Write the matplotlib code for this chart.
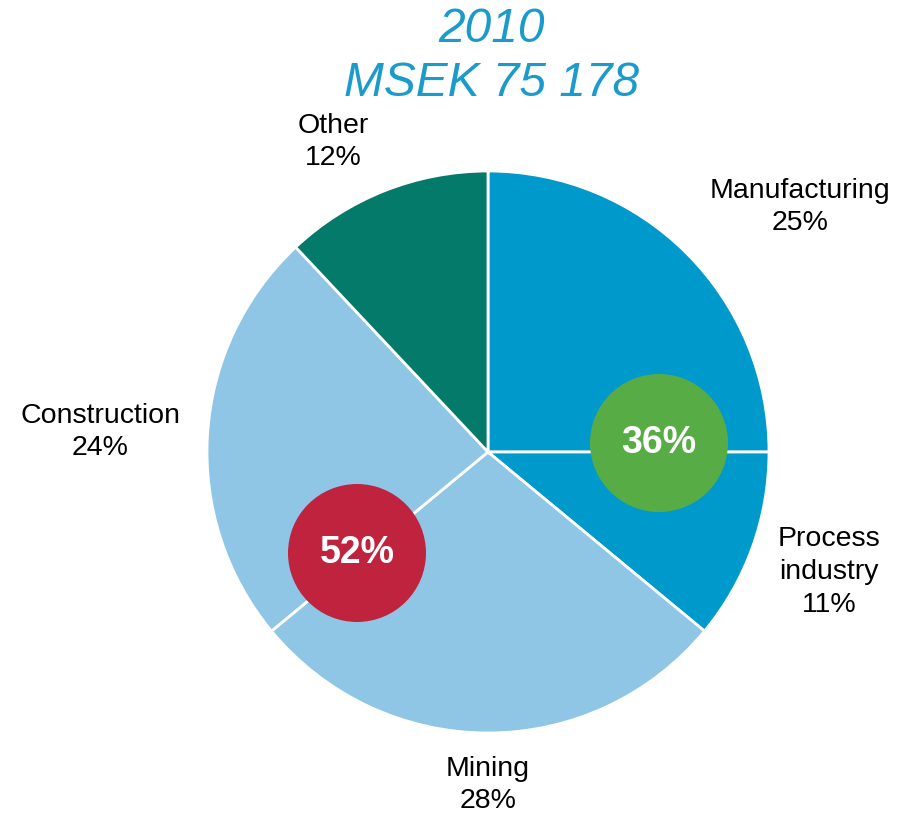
import matplotlib.pyplot as plt
from matplotlib.patches import Circle

# Data
labels = ['Manufacturing', 'Process\nindustry', 'Mining', 'Construction', 'Other']
shares = [25, 11, 28, 24, 12]
colors = ['#0099CC', '#0099CC', '#8FC6E6', '#8FC6E6', '#047A6B']
groups = ['36%', '52%']
group_colors = ['#58AC45', '#C0233E']

plt.rcParams['font.family'] = ['Liberation Sans', 'DejaVu Sans']

W, H = 898, 814
fig = plt.figure(figsize=(W / 100, H / 100), dpi=100)
ax = fig.add_axes([0, 0, 1, 1])

cx, cy, r = 488, H - 452, 281
ax.pie(shares, colors=colors, startangle=90, counterclock=False,
       center=(cx, cy), radius=r, frame=True,
       wedgeprops=dict(edgecolor='white', linewidth=2))
ax.set_xlim(0, W)
ax.set_ylim(0, H)
ax.set_aspect('equal')
ax.axis('off')

# highlight bubbles
bubble_pos = [(659, H - 443), (357, H - 553)]
for txt, col, (bx, by) in zip(groups, group_colors, bubble_pos):
    ax.add_patch(Circle((bx, by), 69, facecolor=col, edgecolor='none', zorder=5))
    ax.text(bx, by, txt, color='white', fontsize=27, fontweight='bold',
            ha='center', va='center', zorder=6)

# slice labels
label_pos = [(800, H - 207), (829, H - 572), (488, H - 785), (100, H - 432), (333, H - 142)]
for lab, s, (lx, ly) in zip(labels, shares, label_pos):
    ax.text(lx, ly, f'{lab}\n{s}%', fontsize=20.5, ha='center', va='center',
            color='black', linespacing=1.33)

# title
ax.text(492, H - 30, '2010', fontsize=34.5, style='italic', color='#1A9BCB',
        ha='center', va='center')
ax.text(492, H - 83, 'MSEK 75 178', fontsize=34.5, style='italic', color='#1A9BCB',
        ha='center', va='center')

fig.savefig('out.png', dpi=100)
